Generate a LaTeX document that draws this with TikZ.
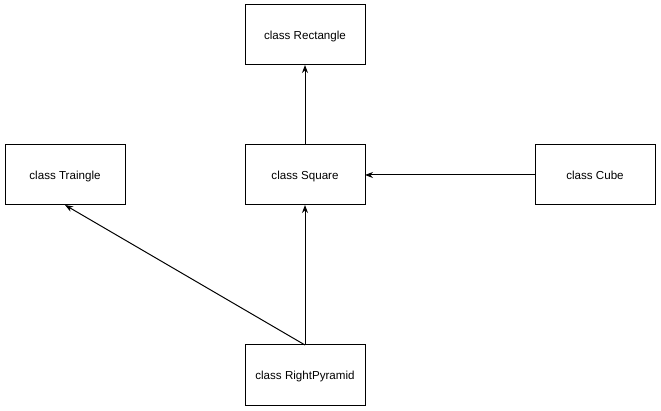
\documentclass[tikz,border=0pt]{standalone}
\usepackage{fontspec}
\setmainfont{Liberation Sans}
\usetikzlibrary{arrows.meta, positioning}

\begin{document}
\begin{tikzpicture}[x=1pt, y=-1pt, >={Stealth[length=8pt,width=6pt]},
    font=\fontsize{11.6}{13}\selectfont,
    classbox/.style={draw, line width=1pt, outer sep=0pt, align=center, minimum width=120pt, minimum height=60pt, text depth=-1pt}]
    \useasboundingbox (0,0) rectangle (661,411);
    \node[classbox] (square) at (305,175) {class Square};
    \node[classbox, above=80pt of square] (rect) {class Rectangle};
    \node[classbox, left=120pt of square] (tri) {class Traingle};
    \node[classbox, right=170pt of square] (cube) {class Cube};
    \node[classbox, below=140pt of square] (pyr) {class RightPyramid};

    \draw[->, line width=1pt] (square) -- (rect);
    \draw[->, line width=1pt] (cube) -- (square);
    \draw[->, line width=1pt] (pyr) -- (square);
    \draw[->, line width=1pt] (pyr.north) -- (tri.south);
\end{tikzpicture}
\end{document}
